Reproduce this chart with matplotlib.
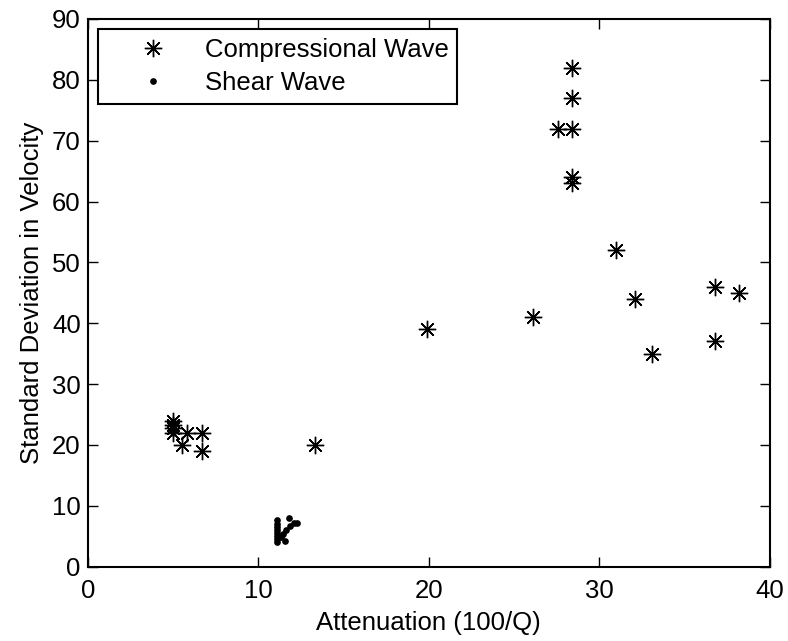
import matplotlib
matplotlib.use("Agg")
import matplotlib.pyplot as plt

plt.rcParams['font.family'] = ['Liberation Sans', 'DejaVu Sans']

# compressional wave: attenuation (100/Q) vs std dev in velocity
comp_x = [5.0, 5.0, 5.0, 5.0, 5.55, 5.85, 6.7, 6.7, 13.3, 19.9, 26.1,
          27.6, 28.4, 28.4, 28.4, 28.4, 28.4, 31.0, 32.1, 33.1, 36.8, 36.8, 38.2]
comp_y = [24, 23.3, 22.8, 22, 20, 22, 22, 19, 20, 39, 41,
          72, 72, 82, 77, 64, 63, 52, 44, 35, 46, 37, 45]

# shear wave
shear_x = [11.07, 11.07, 11.07, 11.07, 11.07, 11.07, 11.07, 11.07,
           11.32, 11.55, 11.45, 11.65, 11.8, 11.84, 12.1, 12.3]
shear_y = [4.0, 4.5, 5.0, 5.5, 6.0, 6.5, 7.0, 7.6,
           4.9, 4.2, 5.4, 6.1, 8.0, 6.7, 7.2, 7.2]

fig = plt.figure(figsize=(7.88, 6.41), dpi=100)
ax = fig.add_axes([0.1113, 0.116, 0.8658, 0.8544])

ast = (8, 2, 0)
ax.plot(comp_x, comp_y, linestyle='none', marker=ast, markersize=12.5,
        markeredgewidth=1.0, color='k', label='Compressional Wave')
ax.plot(shear_x, shear_y, linestyle='none', marker='o', markersize=3.8,
        color='k', label='Shear Wave')

ax.set_xlim(0, 40)
ax.set_ylim(0, 90)
ax.set_xticks([0, 10, 20, 30, 40])
ax.set_yticks(range(0, 91, 10))
ax.tick_params(direction='in', length=7, width=1, top=True, right=True,
               labelsize=18.5)
ax.tick_params(axis='x', pad=9)
ax.tick_params(axis='y', pad=5)
for s in ax.spines.values():
    s.set_linewidth(1.5)

ax.set_xlabel('Attenuation (100/Q)', fontsize=18.5, labelpad=6)
ax.set_ylabel('Standard Deviation in Velocity', fontsize=18.5, labelpad=6)

leg = ax.legend(loc='upper left', fontsize=18.5, borderaxespad=0.4,
                handlelength=3.6, handletextpad=0.2, borderpad=0.35,
                labelspacing=0.35, fancybox=False, framealpha=1,
                edgecolor='k')
leg.get_frame().set_linewidth(1.5)

fig.savefig('out.png', dpi=100)
